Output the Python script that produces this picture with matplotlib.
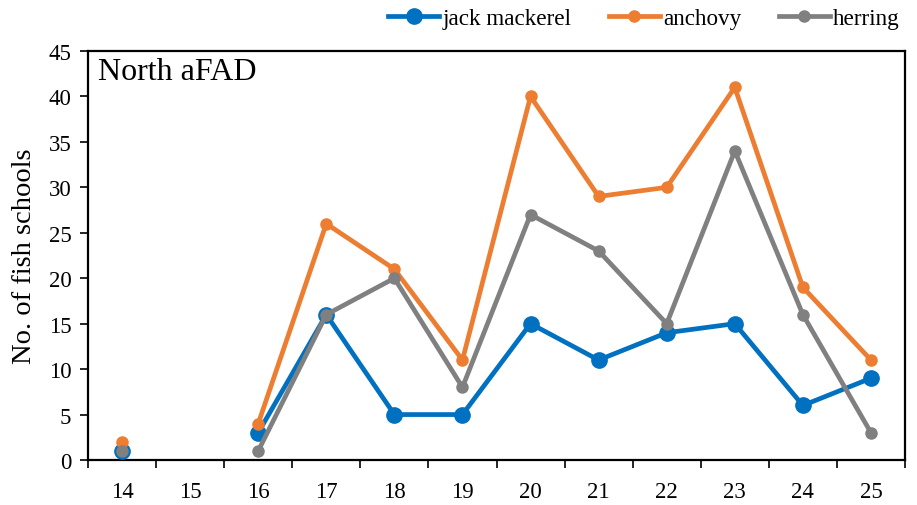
import numpy as np
import matplotlib
matplotlib.use("Agg")
import matplotlib.pyplot as plt

plt.rcParams['font.family'] = ['Liberation Serif', 'DejaVu Serif']

days = [14, 15, 16, 17, 18, 19, 20, 21, 22, 23, 24, 25]
jack = [1, np.nan, 3, 16, 5, 5, 15, 11, 14, 15, 6, 9]
anchovy = [2, np.nan, 4, 26, 21, 11, 40, 29, 30, 41, 19, 11]
herring = [1, np.nan, 1, 16, 20, 8, 27, 23, 15, 34, 16, 3]

fig = plt.figure(figsize=(9.17, 5.06), dpi=100)
ax = fig.add_axes([88/917, 1-461/506, (905-88)/917, (461-52)/506])

x = np.arange(len(days))
ax.plot(x, jack, color='#0070C0', lw=3.4, marker='o', ms=11, label='jack mackerel', zorder=3)
ax.plot(x, anchovy, color='#ED7D31', lw=3.4, marker='o', ms=8, label='anchovy', zorder=4)
ax.plot(x, herring, color='#808080', lw=3.4, marker='o', ms=8, label='herring', zorder=5)

ax.set_xlim(-0.5, len(days) - 0.5)
ax.set_ylim(0, 45)
ax.set_yticks(range(0, 46, 5))
ax.set_xticks(np.arange(-0.5, len(days), 1.0))
ax.set_xticklabels([])
ax.set_xticks(x, minor=True)
ax.set_xticklabels([str(d) for d in days], minor=True)
ax.tick_params(axis='x', which='minor', length=0, labelsize=16.5, pad=15)
ax.tick_params(axis='x', which='major', length=6, width=1.2, direction='out')
ax.tick_params(axis='y', length=6, width=1.2, labelsize=16.5, direction='out', pad=6)
for s in ax.spines.values():
    s.set_linewidth(1.6)
ax.set_ylabel('No. of fish schools', fontsize=20.5, labelpad=8)
ax.text(0.012, 0.985, 'North aFAD', transform=ax.transAxes, fontsize=23, va='top', ha='left')

leg = ax.legend(loc='lower right', bbox_to_anchor=(1.005, 1.03), ncol=3, frameon=False,
                fontsize=16.7, handlelength=2.2, handletextpad=0.15, columnspacing=1.6,
                borderaxespad=0)
plt.savefig('out.png', dpi=100)
